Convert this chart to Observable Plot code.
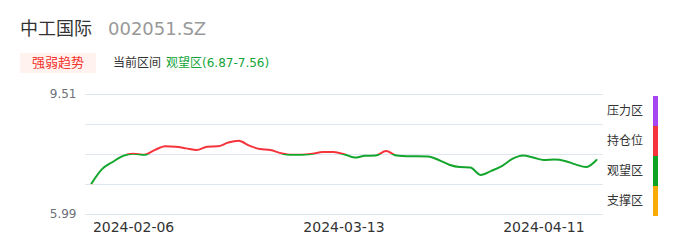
<!DOCTYPE html>
<html><head><meta charset="utf-8">
<script src="https://cdn.jsdelivr.net/npm/d3@7"></script>
<script src="https://cdn.jsdelivr.net/npm/@observablehq/plot@0.6"></script>
<style>
html,body{margin:0;padding:0;background:#fff;}
#root{position:relative;width:686px;height:247px;overflow:hidden;font-family:"DejaVu Sans","Noto Sans CJK SC",sans-serif;}
.title{position:absolute;left:20px;top:17px;font-size:18px;line-height:24px;color:#333;white-space:nowrap;}
.title .code{color:#999;margin-left:16px;}
.badge{position:absolute;left:20px;top:53px;width:76px;height:20px;background:#fff2ef;color:#f5322d;font-size:13px;line-height:20px;text-align:center;}
.cur{position:absolute;left:113px;top:53px;font-size:12px;line-height:20px;color:#333;white-space:nowrap;}
.cur .zone{color:#13a53a;margin-left:5px;}
#chart{position:absolute;left:0;top:80px;}
.leg-label{position:absolute;left:607px;font-size:12px;line-height:16px;color:#333;white-space:nowrap;}
.leg-bar{position:absolute;left:653px;width:5px;}
</style></head>
<body><div id="root">
<div class="title">中工国际<span class="code">002051.SZ</span></div>
<div class="badge">强弱趋势</div>
<div class="cur">当前区间<span class="zone" id="curzone"></span></div>
<div id="chart"></div>
</div>
<script>
// ---- data ----
const dates = [
"2024-01-31","2024-02-01","2024-02-02","2024-02-05","2024-02-06","2024-02-07","2024-02-08",
"2024-02-19","2024-02-20","2024-02-21","2024-02-22","2024-02-23",
"2024-02-26","2024-02-27","2024-02-28","2024-02-29","2024-03-01",
"2024-03-04","2024-03-05","2024-03-06","2024-03-07","2024-03-08",
"2024-03-11","2024-03-12","2024-03-13","2024-03-14","2024-03-15",
"2024-03-18","2024-03-19","2024-03-20","2024-03-21","2024-03-22",
"2024-03-25","2024-03-26","2024-03-27","2024-03-28","2024-03-29",
"2024-04-01","2024-04-02","2024-04-03","2024-04-08","2024-04-09","2024-04-10","2024-04-11",
"2024-04-12","2024-04-15","2024-04-16","2024-04-17","2024-04-18"];
const values = [
6.90,7.32,7.53,7.71,7.77,7.74,7.88,7.99,7.98,7.93,7.88,7.98,7.99,8.10,8.15,8.01,7.91,7.88,7.79,7.74,
7.74,7.77,7.82,7.82,7.76,7.66,7.71,7.72,7.85,7.72,7.70,7.70,7.69,7.59,7.45,7.38,7.37,7.15,7.27,7.41,
7.62,7.72,7.66,7.59,7.60,7.56,7.46,7.38,7.59];
const tickDates = ["2024-02-06","2024-03-13","2024-04-11"];
const yBreaks = [5.99, 6.87, 7.75, 8.63, 9.51];     // grid lines / zone boundaries
const yLabels = [5.99, 9.51];
const zoneNames = ["压力区","持仓位","观望区","支撑区"];   // top to bottom
const zoneColors = ["#a646f2","#f5333b","#0fa324","#fbab05"];
const lineColors = ["#a646f2","#f5333b","#13a52c","#fbab05"]; // top to bottom
const currentZone = "观望区";
const currentRange = [6.87, 7.56];

// ---- chart ----
document.getElementById("curzone").textContent = `${currentZone}(${currentRange[0]}-${currentRange[1]})`;
const data = values.map((v, i) => ({i, v, date: dates[i]}));
const tickIdx = tickDates.map(d => dates.indexOf(d));
const W = 686, H = 167, MT = 14, MB = 33;
const chart = Plot.plot({
  width: W, height: H,
  marginLeft: 85, marginRight: 83, marginTop: MT, marginBottom: MB,
  style: {fontSize: "12px", fontFamily: "DejaVu Sans, Noto Sans CJK SC, sans-serif", color: "#6e7079", background: "transparent"},
  x: {domain: [0, dates.length - 1], insetLeft: 6, insetRight: 7, ticks: tickIdx, tickFormat: i => dates[i], tickSize: 0, tickPadding: 8, label: null},
  y: {domain: [yBreaks[0], yBreaks[yBreaks.length - 1]], ticks: yLabels, tickFormat: d => d.toFixed(2), tickSize: 0, tickPadding: 9, label: null},
  marks: [
    Plot.ruleY(yBreaks, {stroke: "#e0e6f1", strokeWidth: 1}),
    Plot.line(data, {x: "i", y: "v", stroke: "#f5333b", strokeWidth: 2, curve: "monotone-x"})
  ]
});
document.getElementById("chart").appendChild(chart);
const svg = d3.select(chart);
svg.selectAll('g[aria-label^="x-axis"] text').attr("font-size", "14px").attr("fill", "#333").style("font-size", "14px").style("fill", "#333");
svg.selectAll('g[aria-label^="y-axis"] text').style("fill", "#6e7079");
const ys = chart.scale("y");
const py = v => ys.apply(v);
// gradient for the zone-coloured line
const defs = svg.insert("defs", ":first-child");
const grad = defs.append("linearGradient").attr("id", "zoneGrad").attr("gradientUnits", "userSpaceOnUse")
  .attr("x1", 0).attr("x2", 0).attr("y1", 0).attr("y2", H);
const topDown = yBreaks.slice().reverse();
const bounds = [0, py(topDown[1]), py(topDown[2]), py(topDown[3]), H];
lineColors.forEach((c, k) => {
  grad.append("stop").attr("offset", bounds[k] / H).attr("stop-color", c);
  grad.append("stop").attr("offset", bounds[k + 1] / H).attr("stop-color", c);
});
svg.selectAll('g[aria-label="line"]').attr("stroke", "url(#zoneGrad)");
svg.selectAll('g[aria-label="line"] path').attr("stroke", "url(#zoneGrad)");
// legend on the right, positioned from the y scale
const root = document.getElementById("root");
const top0 = 80;
zoneNames.forEach((name, k) => {
  const y1 = top0 + py(topDown[k]) + 2, y2 = top0 + py(topDown[k + 1]) + 2;
  const bar = document.createElement("div");
  bar.className = "leg-bar";
  bar.style.top = y1 + "px"; bar.style.height = (y2 - y1) + "px"; bar.style.background = zoneColors[k];
  root.appendChild(bar);
  const lab = document.createElement("div");
  lab.className = "leg-label";
  lab.textContent = name;
  lab.style.top = ((y1 + y2) / 2 - 8) + "px";
  root.appendChild(lab);
});
</script>
</body></html>
